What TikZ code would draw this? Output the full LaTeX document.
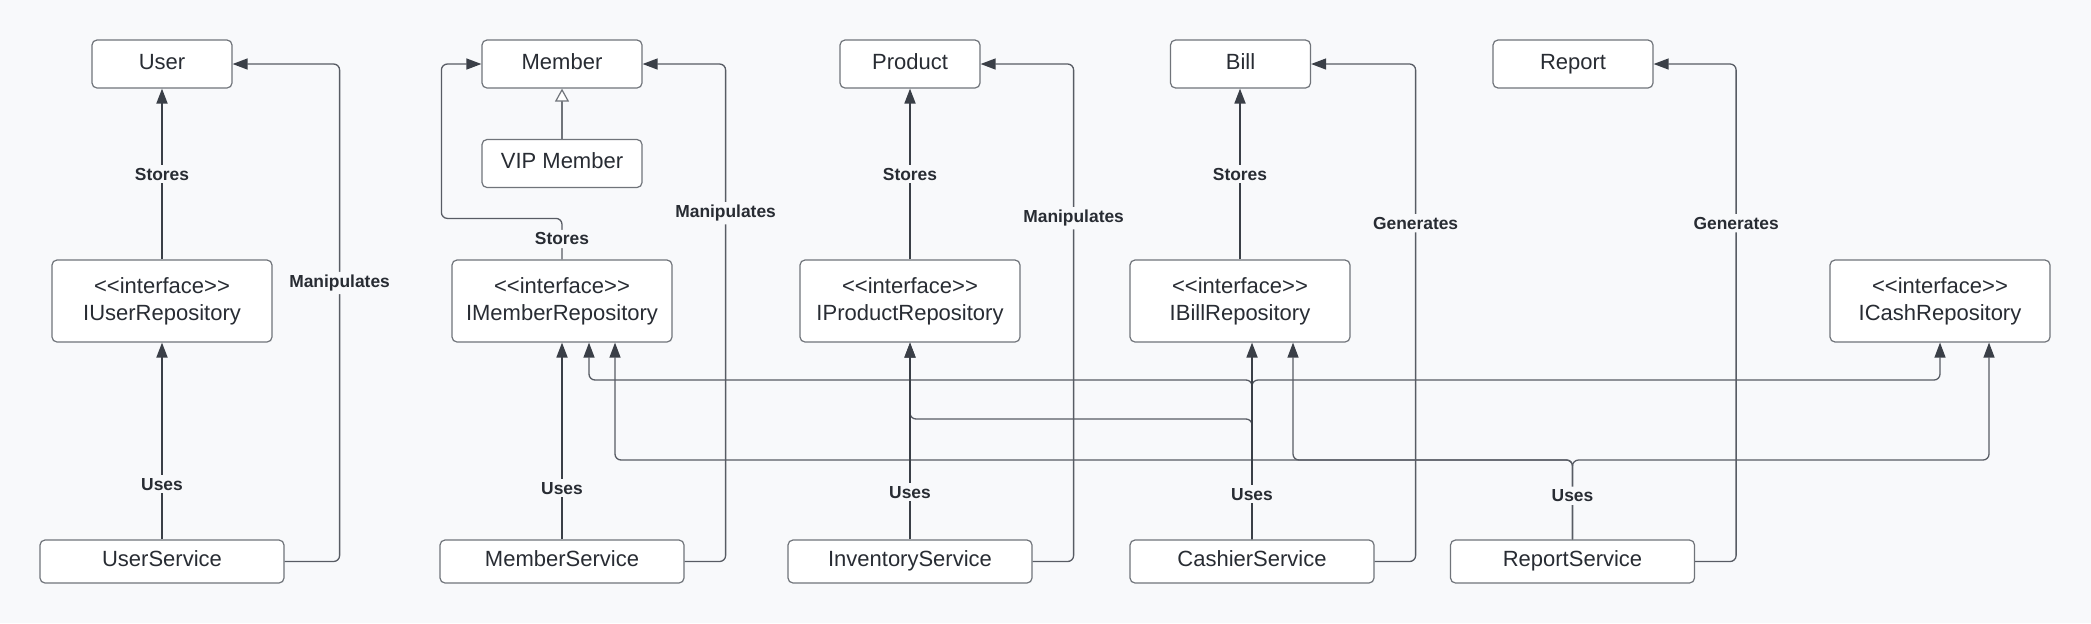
\documentclass[tikz,border=0pt]{standalone}
\usepackage{fontspec}
\setmainfont{Liberation Sans}[Ligatures=TeXOff]
\usetikzlibrary{arrows.meta,calc}

\definecolor{bgcol}{RGB}{248,249,251}
\definecolor{linecol}{RGB}{58,63,71}
\definecolor{edgecol}{RGB}{88,92,100}
\definecolor{boxcol}{RGB}{112,116,122}
\definecolor{txtcol}{RGB}{40,44,51}

\tikzstyle{box}=[draw=boxcol, fill=white, rounded corners=2.5pt, line width=0.6pt, text=txtcol, font=\fontsize{11}{13.5}\selectfont, inner sep=0pt, align=center]
\tikzstyle{entity}=[box, minimum width=70pt, minimum height=24pt, text height=8pt, text depth=3pt]
\tikzstyle{repo}=[box, minimum width=110pt, minimum height=41pt]
\tikzstyle{service}=[box, minimum width=122pt, minimum height=21.5pt, text height=8pt, text depth=3pt]
\tikzstyle{arrow}=[draw=linecol, line width=0.9pt, -{Triangle[length=7.5pt,width=5.5pt]}]
\tikzstyle{route}=[draw=edgecol, line width=0.65pt, rounded corners=3pt, -{Triangle[length=7.5pt,width=5.5pt,color=linecol]}]
\tikzstyle{inherit}=[draw=boxcol, line width=0.6pt, -{Triangle[open,length=6.5pt,width=7pt,fill=white]}]
\tikzstyle{lbl}=[fill=bgcol, text=txtcol, font=\fontsize{8.7}{10}\selectfont\bfseries, inner sep=1.5pt]

\begin{document}
\begin{tikzpicture}[x=0.5pt,y=-0.5pt]

\fill[bgcol] (0,0) rectangle (2091,623);
\useasboundingbox (0,0) rectangle (2091,623);

% entities
\node[entity] (user) at (162,64) {User};
\node[entity, minimum width=80pt] (member) at (562,64) {Member};
\node[entity, minimum width=80pt] (vip) at (562,163.5) {VIP Member};
\node[entity] (product) at (910,64) {Product};
\node[entity] (bill) at (1240.5,64) {Bill};
\node[entity, minimum width=80pt] (report) at (1573,64) {Report};

% repositories
\node[repo] (iuserrepo) at (162,301) {<<interface>>\\IUserRepository};
\node[repo] (imemrepo) at (562,301) {<<interface>>\\IMemberRepository};
\node[repo] (iprodrepo) at (910,301) {<<interface>>\\IProductRepository};
\node[repo] (ibillrepo) at (1240,301) {<<interface>>\\IBillRepository};
\node[repo] (icashrepo) at (1940,301) {<<interface>>\\ICashRepository};

% services
\node[service] (usersvc) at (162,561.5) {UserService};
\node[service] (memsvc) at (562,561.5) {MemberService};
\node[service] (invsvc) at (910,561.5) {InventoryService};
\node[service] (cashsvc) at (1252,561.5) {CashierService};
\node[service] (repsvc) at (1572.5,561.5) {ReportService};

\coordinate (busA) at (0,380);
\coordinate (busB) at (0,419);
\coordinate (busC) at (0,460);
\coordinate (memA) at ($(imemrepo.south)+(27,0)$);
\coordinate (memB) at ($(imemrepo.south)+(53,0)$);
\coordinate (billB) at ($(ibillrepo.south)+(53,0)$);
\coordinate (cashA) at (icashrepo.south);
\coordinate (cashB) at ($(icashrepo.south)+(49,0)$);

% stores
\draw[arrow] (iuserrepo) -- node[lbl]{Stores} (user);
\draw[arrow] (iprodrepo) -- node[lbl]{Stores} (product);
\draw[arrow] (ibillrepo.north) -- node[lbl]{Stores} (ibillrepo.north |- bill.south);
\draw[route] (imemrepo.north) -- node[lbl]{Stores} ++(0,-41) -| ($(member.west)+(-40,0)$) -- (member.west);
\draw[inherit] (vip) -- (member);

% manipulates / generates
\draw[route] (usersvc.east) -- ++(55,0) |- node[lbl,pos=0.28]{Manipulates} (user.east);
\draw[route] (memsvc.east) -- ++(41,0) |- node[lbl,pos=0.35]{Manipulates} (member.east);
\draw[route] (invsvc.east) -- ++(41,0) |- node[lbl,pos=0.345]{Manipulates} (product.east);
\draw[route] (cashsvc.east) -- ++(41,0) |- node[lbl,pos=0.34]{Generates} (bill.east);
\draw[route] (repsvc.east) -- ++(41,0) |- node[lbl,pos=0.34]{Generates} (report.east);

% uses
\draw[route] (cashsvc.north) |- (busA -| memA) -- (memA);
\draw[route] (cashsvc.north) |- (busA -| cashA) -- (cashA);
\draw[route] (cashsvc.north) |- (busB -| iprodrepo.south) -- (iprodrepo.south);
\draw[route] (repsvc.north) |- (busC -| memB) -- (memB);
\draw[route] (repsvc.north) |- (busC -| billB) -- (billB);
\draw[route] (repsvc.north) |- node[lbl,pos=0.275]{Uses} (busC -| cashB) -- (cashB);
\draw[arrow] (usersvc) -- node[lbl,pos=0.28]{Uses} (iuserrepo);
\draw[arrow] (memsvc) -- node[lbl,pos=0.26]{Uses} (imemrepo);
\draw[arrow] (invsvc) -- node[lbl,pos=0.24]{Uses} (iprodrepo);
\draw[arrow] (cashsvc.north) -- node[lbl,pos=0.23]{Uses} (cashsvc.north |- ibillrepo.south);

\end{tikzpicture}
\end{document}
